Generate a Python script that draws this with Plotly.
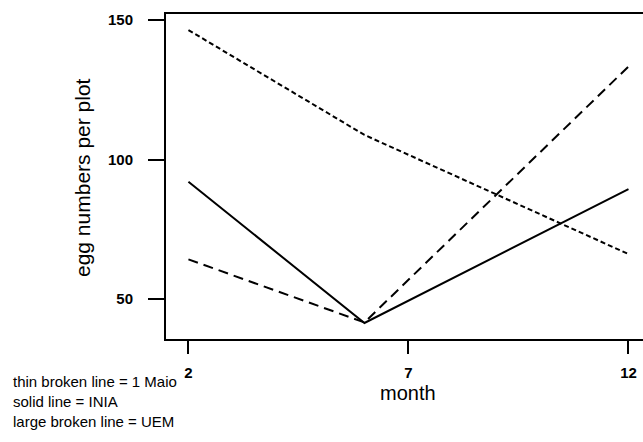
import plotly.graph_objects as go

# Data
months = [2, 6, 12]
maio = [146.4, 108.8, 66.1]      # thin broken line = 1 Maio
inia = [92.0, 41.4, 89.4]        # solid line = INIA
uem = [64.2, 41.6, 133.3]        # large broken line = UEM

x_ticks = [2, 7, 12]
y_ticks = [50, 100, 150]
legend_lines = ["thin broken line = 1 Maio", "solid line = INIA", "large broken line = UEM"]

FONT = "Liberation Sans, Arial, Helvetica, sans-serif"
W, H = 643, 442
ML, MR, MT, MB = 166, 0, 14, 103
PW, PH = W - ML - MR, H - MT - MB

fig = go.Figure()
fig.add_trace(go.Scatter(x=months, y=maio, mode="lines",
                         line=dict(color="black", width=2, dash="5px,3px")))
fig.add_trace(go.Scatter(x=months, y=inia, mode="lines",
                         line=dict(color="black", width=2)))
fig.add_trace(go.Scatter(x=months, y=uem, mode="lines",
                         line=dict(color="black", width=2, dash="10px,6px")))

def px_x(px):
    return (px - ML) / PW

def px_y(py):
    return (H - MB - py) / PH

annotations = [
    dict(text="egg numbers per plot", xref="paper", yref="paper",
         x=px_x(82), y=px_y(178), xanchor="center", yanchor="middle",
         textangle=-90, showarrow=False, font=dict(family=FONT, size=21, color="black")),
    dict(text="month", xref="x", yref="paper", x=7, y=px_y(393),
         xanchor="center", yanchor="middle", showarrow=False,
         font=dict(family=FONT, size=20, color="black")),
]
for i, t in enumerate(legend_lines):
    annotations.append(dict(text=t, xref="paper", yref="paper", x=px_x(11),
                            y=px_y(381 + 20 * i), xanchor="left", yanchor="middle",
                            showarrow=False, font=dict(family=FONT, size=15, color="black")))

fig.update_layout(
    width=W, height=H, margin=dict(l=ML, r=MR, t=MT, b=MB, pad=0),
    paper_bgcolor="white", plot_bgcolor="white", showlegend=False,
    annotations=annotations,
    xaxis=dict(range=[1.49, 12.33], tickvals=x_ticks, ticktext=[str(v) for v in x_ticks],
               showgrid=False, zeroline=False, showline=True, mirror=True,
               linecolor="black", linewidth=2, ticks="outside", ticklen=13,
               tickwidth=2, tickcolor="black", ticklabelstandoff=6,
               tickfont=dict(family=FONT, size=15, color="black", weight="bold")),
    yaxis=dict(range=[35.66, 152.15], tickvals=y_ticks, ticktext=[str(v) for v in y_ticks],
               showgrid=False, zeroline=False, showline=True, mirror=False,
               linecolor="black", linewidth=2, ticks="outside", ticklen=16,
               tickwidth=2, tickcolor="black", ticklabelstandoff=12,
               tickfont=dict(family=FONT, size=15, color="black", weight="bold")),
)

fig.write_html("out.html")
